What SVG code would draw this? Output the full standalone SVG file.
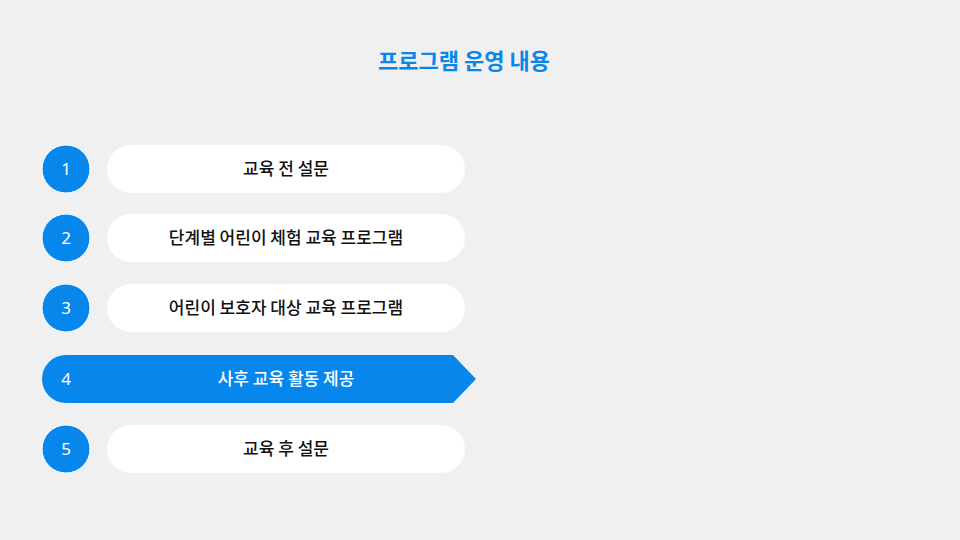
<svg xmlns="http://www.w3.org/2000/svg" width="960" height="540" viewBox="0 0 960 540">
<style>
.c{fill:#0787EC;stroke:#fff;stroke-width:1}
.p{fill:#fff}
.n{font-family:"Noto Sans","Noto Sans CJK KR",sans-serif;font-size:17px;fill:#fff;text-anchor:middle}
.t{font-family:"Noto Sans CJK KR",sans-serif;font-size:17px;font-weight:500;fill:#111;text-anchor:middle}
</style>
<rect width="960" height="540" fill="#F0F0F0"/>
<text x="464" y="69" text-anchor="middle" font-family="Noto Sans CJK KR,sans-serif" font-size="22" font-weight="bold" fill="#0787EC">프로그램 운영 내용</text>
<g id="node1"><circle class="c" cx="66" cy="169" r="24"/><text class="n" x="66" y="175">1</text><rect class="p" x="107" y="145" width="358" height="48" rx="24"/><text class="t" x="286" y="175">교육 전 설문</text></g>
<g id="node2"><circle class="c" cx="66" cy="238" r="24"/><text class="n" x="66" y="244">2</text><rect class="p" x="107" y="214" width="358" height="48" rx="24"/><text class="t" x="286" y="244">단계별 어린이 체험 교육 프로그램</text></g>
<g id="node3"><circle class="c" cx="66" cy="308" r="24"/><text class="n" x="66" y="314">3</text><rect class="p" x="107" y="284" width="358" height="48" rx="24"/><text class="t" x="286" y="314">어린이 보호자 대상 교육 프로그램</text></g>
<g id="node4"><path d="M66 355 H453 L476 379 L453 403 H66 A24 24 0 0 1 66 355 Z" fill="#0787EC"/><text class="n" x="66" y="385">4</text><text class="t" x="286" y="385" style="fill:#fff">사후 교육 활동 제공</text></g>
<g id="node5"><circle class="c" cx="66" cy="449" r="24"/><text class="n" x="66" y="455">5</text><rect class="p" x="107" y="425" width="358" height="48" rx="24"/><text class="t" x="286" y="455">교육 후 설문</text></g>
<g id="connectors"></g>
</svg>
